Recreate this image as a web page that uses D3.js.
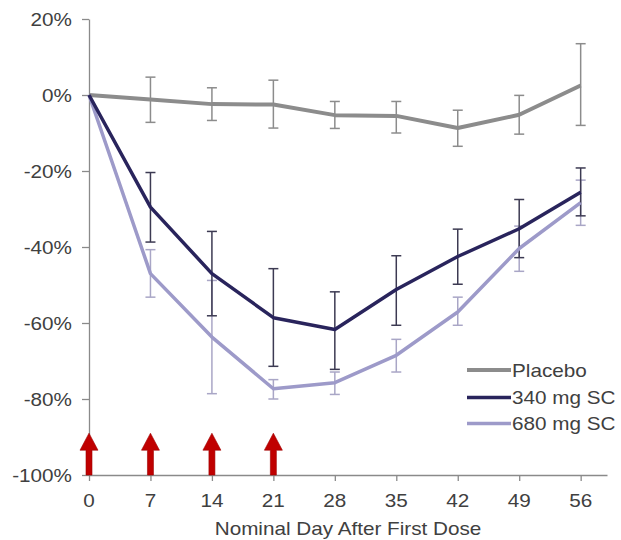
<!DOCTYPE html>
<html><head><meta charset="utf-8">
<script src="https://cdn.jsdelivr.net/npm/d3@7"></script>
<style>body{margin:0;background:#fff}svg{display:block}</style>
</head><body>
<script>
const days = [0, 7, 14, 21, 28, 35, 42, 49, 56];
const yTicks = [20, 0, -20, -40, -60, -80, -100];
const doseDays = [0, 7, 14, 21];
const seriesNames = ["Placebo", "340 mg SC", "680 mg SC"];
const placeboMean = [0, -1.2, -2.4, -2.5, -5.3, -5.5, -8.7, -5.2, 2.5];
const placeboHi   = [0, 4.7, 1.9, 3.9, -1.7, -1.7, -4.0, -0.1, 13.5];
const placeboLo   = [0, -7.2, -6.7, -8.7, -8.8, -10.0, -13.5, -10.3, -8.0];
const mg340Mean = [0, -29.5, -47.0, -58.6, -61.7, -51.2, -42.5, -35.2, -25.6];
const mg340Hi   = [0, -20.4, -35.9, -45.7, -51.8, -42.3, -35.3, -27.5, -19.2];
const mg340Lo   = [0, -38.7, -58.1, -71.4, -72.2, -60.6, -49.8, -42.8, -31.8];
const mg680Mean = [0, -47.0, -63.7, -77.3, -75.7, -68.5, -57.1, -40.4, -28.3];
const mg680Hi   = [0, -40.7, -48.8, -74.9, -72.9, -64.3, -53.2, -34.5, -22.4];
const mg680Lo   = [0, -53.2, -78.6, -80.0, -78.8, -72.9, -60.6, -46.4, -34.3];

const W = 621, H = 540;
const svg = d3.select("body").append("svg").attr("width", W).attr("height", H);
const x = d3.scaleLinear().domain([0, 59]).range([89, 607]);
const y = d3.scaleLinear().domain([-100, 20]).range([475, 19]);
const SX = 1.15;
const font = "Liberation Sans, Arial, sans-serif";
const txtCol = "#404040";
const axCol = "#8a8a8a";

function label(g, px, py, t, anchor) {
  g.append("text").attr("transform", `translate(${px},${py}) scale(${SX},1)`)
    .attr("text-anchor", anchor).attr("font-family", font).attr("font-size", 18)
    .attr("fill", txtCol).text(t);
}

// y axis
const yAxis = svg.append("g").attr("transform", `translate(${x(0)},0)`)
  .call(d3.axisLeft(y).tickValues(yTicks).tickSize(7).tickSizeOuter(0).tickFormat(""));
yAxis.select(".domain").attr("stroke", axCol).attr("stroke-width", 1.3);
yAxis.selectAll(".tick line").attr("stroke", axCol).attr("stroke-width", 1.3);
yTicks.forEach(v => label(svg, 72, y(v) + 6.5, v + "%", "end"));

// x axis
const xAxis = svg.append("g").attr("transform", `translate(0,${y(-100)})`)
  .call(d3.axisBottom(x).tickValues(days).tickSize(6).tickSizeOuter(0).tickFormat(""));
xAxis.select(".domain").attr("stroke", axCol).attr("stroke-width", 1.3);
xAxis.selectAll(".tick line").attr("stroke", axCol).attr("stroke-width", 1.3);
days.forEach(d => label(svg, x(d), 507, String(d), "middle"));
label(svg, 348, 535, "Nominal Day After First Dose", "middle");

// series
const series = [
  {name: seriesNames[0], mean: placeboMean, hi: placeboHi, lo: placeboLo, color: "#8c8c8c", err: "#8c8c8c", w: 4},
  {name: seriesNames[1], mean: mg340Mean, hi: mg340Hi, lo: mg340Lo, color: "#29245c", err: "#3c3a52", w: 3.5},
  {name: seriesNames[2], mean: mg680Mean, hi: mg680Hi, lo: mg680Lo, color: "#9d9ac9", err: "#a9a6c6", w: 3.5}
];
const line = d3.line().x((d, i) => x(days[i])).y(d => y(d));

// error bars for all, drawn under lines in reverse order
series.slice().reverse().forEach(s => {
  const g = svg.append("g").attr("stroke", s.err).attr("stroke-width", 1.5).attr("fill", "none");
  days.forEach((d, i) => {
    if (i === 0) return;
    const cx = x(d);
    g.append("line").attr("x1", cx).attr("x2", cx).attr("y1", y(s.hi[i])).attr("y2", y(s.lo[i]));
    g.append("line").attr("x1", cx - 5).attr("x2", cx + 5).attr("y1", y(s.hi[i])).attr("y2", y(s.hi[i]));
    g.append("line").attr("x1", cx - 5).attr("x2", cx + 5).attr("y1", y(s.lo[i])).attr("y2", y(s.lo[i]));
  });
});
[series[0], series[2], series[1]].forEach(s => {
  svg.append("path").datum(s.mean).attr("d", line).attr("fill", "none")
    .attr("stroke", s.color).attr("stroke-width", s.w).attr("stroke-linejoin", "round");
});

// arrows
doseDays.forEach(d => {
  const cx = x(d), b = y(-100), tip = y(-89);
  const hb = tip + 17;
  svg.append("path")
    .attr("d", `M${cx},${tip} L${cx + 9},${hb} L${cx + 3},${hb} L${cx + 3},${b} L${cx - 3},${b} L${cx - 3},${hb} L${cx - 9},${hb} Z`)
    .attr("fill", "#c00000").attr("stroke", "#a00000").attr("stroke-width", 0.6);
});

// legend
const legY = [370, 397.5, 423.5];
series.forEach((s, i) => {
  svg.append("line").attr("x1", 467).attr("x2", 511).attr("y1", legY[i]).attr("y2", legY[i])
    .attr("stroke", s.color).attr("stroke-width", s.w);
  label(svg, 512, legY[i] + 6.5, s.name, "start");
});
</script>
</body></html>
